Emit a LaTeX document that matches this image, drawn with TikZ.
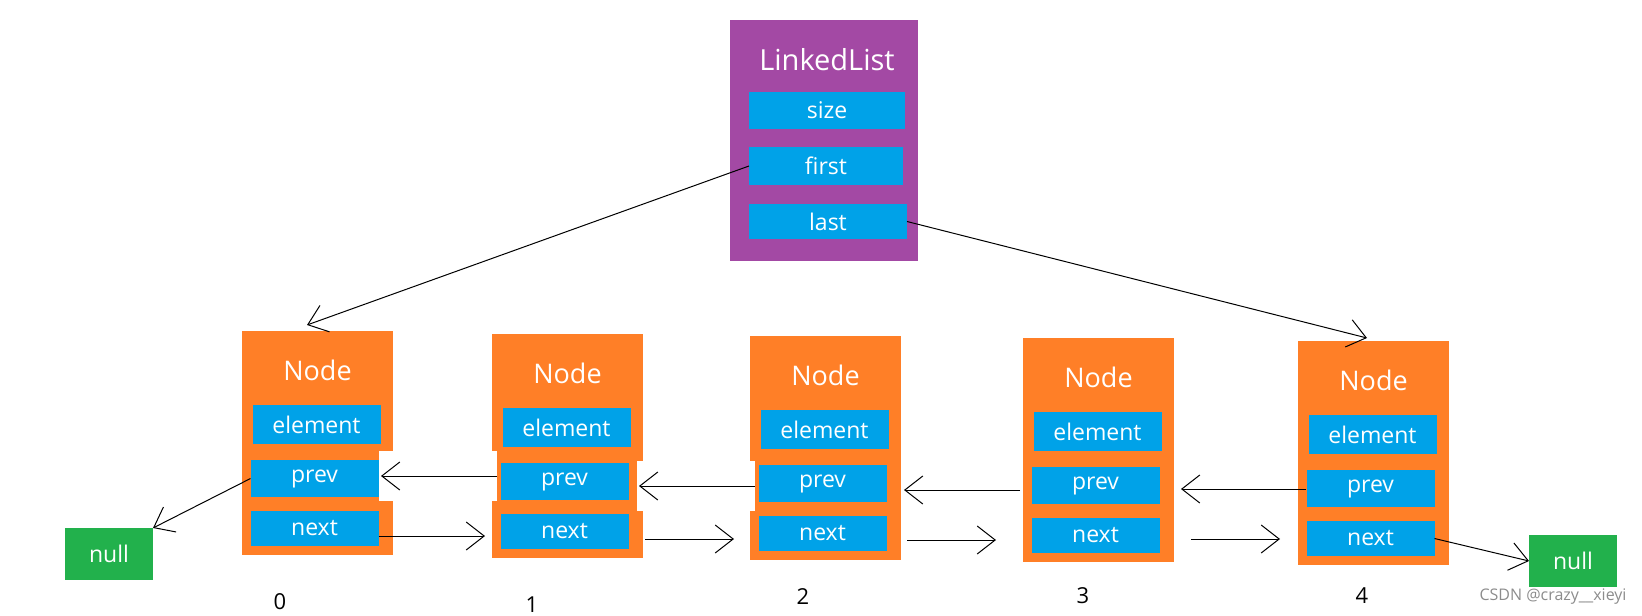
\documentclass[tikz,border=0pt]{standalone}
\usepackage{fontspec}
\setmainfont{Open Sans}
\usetikzlibrary{arrows.meta,calc}
\definecolor{llpurple}{HTML}{A349A4}
\definecolor{ndorange}{HTML}{FF7F27}
\definecolor{fdblue}{HTML}{00A2E8}
\definecolor{nlgreen}{HTML}{22B14C}
\begin{document}
\begin{tikzpicture}[x=1pt,y=-1pt,>={Straight Barb[length=18pt,width=28pt]},line width=1pt,
		box/.style={inner sep=0pt,outer sep=0pt,text=white},
		field/.style={box,fill=fdblue,minimum width=128pt,minimum height=#1,font=\fontsize{23}{26}\selectfont},
		nodebox/.style={box,fill=ndorange,minimum width=151pt,minimum height=224pt},
		title/.style={box,font=\fontsize{27}{30}\selectfont},
		nullbox/.style={box,fill=nlgreen,minimum width=88pt,minimum height=52pt,font=\fontsize{23}{26}\selectfont},
		idx/.style={inner sep=0pt,font=\fontsize{22}{24}\selectfont}]
			\useasboundingbox (0,0) rectangle (1642,616);
			\node[box,fill=llpurple,minimum width=188pt,minimum height=241pt] (ll) at (824,140.5) {};
			\node[title,font=\fontsize{29}{32}\selectfont] (llt) at (827,60) {LinkedList};
			\node[field=37pt,minimum width=156pt] (size) at (827,110.5) {size};
			\node[field=38pt,minimum width=154pt] (first) at (826,166) {first};
			\node[field=35pt,minimum width=158pt] (last) at (828,221.5) {last};
			\foreach \i/\x/\y in {0/242/331,1/492/334,2/750/336,3/1023/338,4/1298/341}\node[nodebox,anchor=north west] (n\i) at (\x,\y) {};
			\fill[white] ($(n0.north east)+(-14,120)$) rectangle +(14,50);
			\fill[white] ($(n1.north west)+(0,117)$) rectangle +(5,50);
			\fill[white] ($(n1.north east)+(-6,127)$) rectangle +(6,50);
			\fill[white] ($(n2.north west)+(0,125)$) rectangle +(5,50);
			\foreach \i in {0,...,4}{
				\node[title] (t\i) at ($(n\i.north)+(0,39)$) {Node};
				\node[field=39pt] (e\i) at ($(n\i.north)+(-1,93.5)$) {element};
				\node[field=37pt] (p\i) at ($(n\i.north)+(-3,147.5)$) {prev};
				\node[field=35pt] (x\i) at ($(n\i.north)+(-3,197.5)$) {next};
			}
			\foreach \i/\x/\y in {0/280/602,1/532/605,2/803/597,3/1083/596,4/1362/596}\node[idx] (i\i) at (\x,\y) {\i};
			\node[nullbox] (nl) at (109,554) {null};
			\node[nullbox] (nr) at (1573,561) {null};
			\node[anchor=east,inner sep=0pt,text=black!45,font=\fontsize{16}{18}\selectfont] (wm) at (1627,597) {CSDN @crazy\_\_xieyi};
			\draw[->] (first.west)--($(n0.north)+(-10.5,-6)$);
			\draw[->] (last.east)--($(n4.north)+(-6.5,-3)$);
			\draw[->] (p0.west)--(nl.north east);
			\draw[->] (x4.east)--(nr.west);
			\foreach \a/\b/\s/\e/\d in {1/0/3.5/2.5/-5.5,2/1/3.5/10.5/2.5,3/2/11.5/17.5/4.5,4/3/0.5/21.5/0.5}\draw[->]($(p\a.west)+(-\s,\d)$)--($(p\a.west -| p\b.east)+(\e,\d)$);
			\foreach \a/\b/\s/\e/\d in {0/1/0/15.5/7.5,1/2/16.5/24.5/7.5,2/3/20.5/35.5/6.5,3/4/31.5/26.5/3.5}\draw[->]($(x\a.east)+(\s,\d)$)--($(x\a.east -| x\b.west)+(-\e,\d)$);
		\end{tikzpicture}
\end{document}
